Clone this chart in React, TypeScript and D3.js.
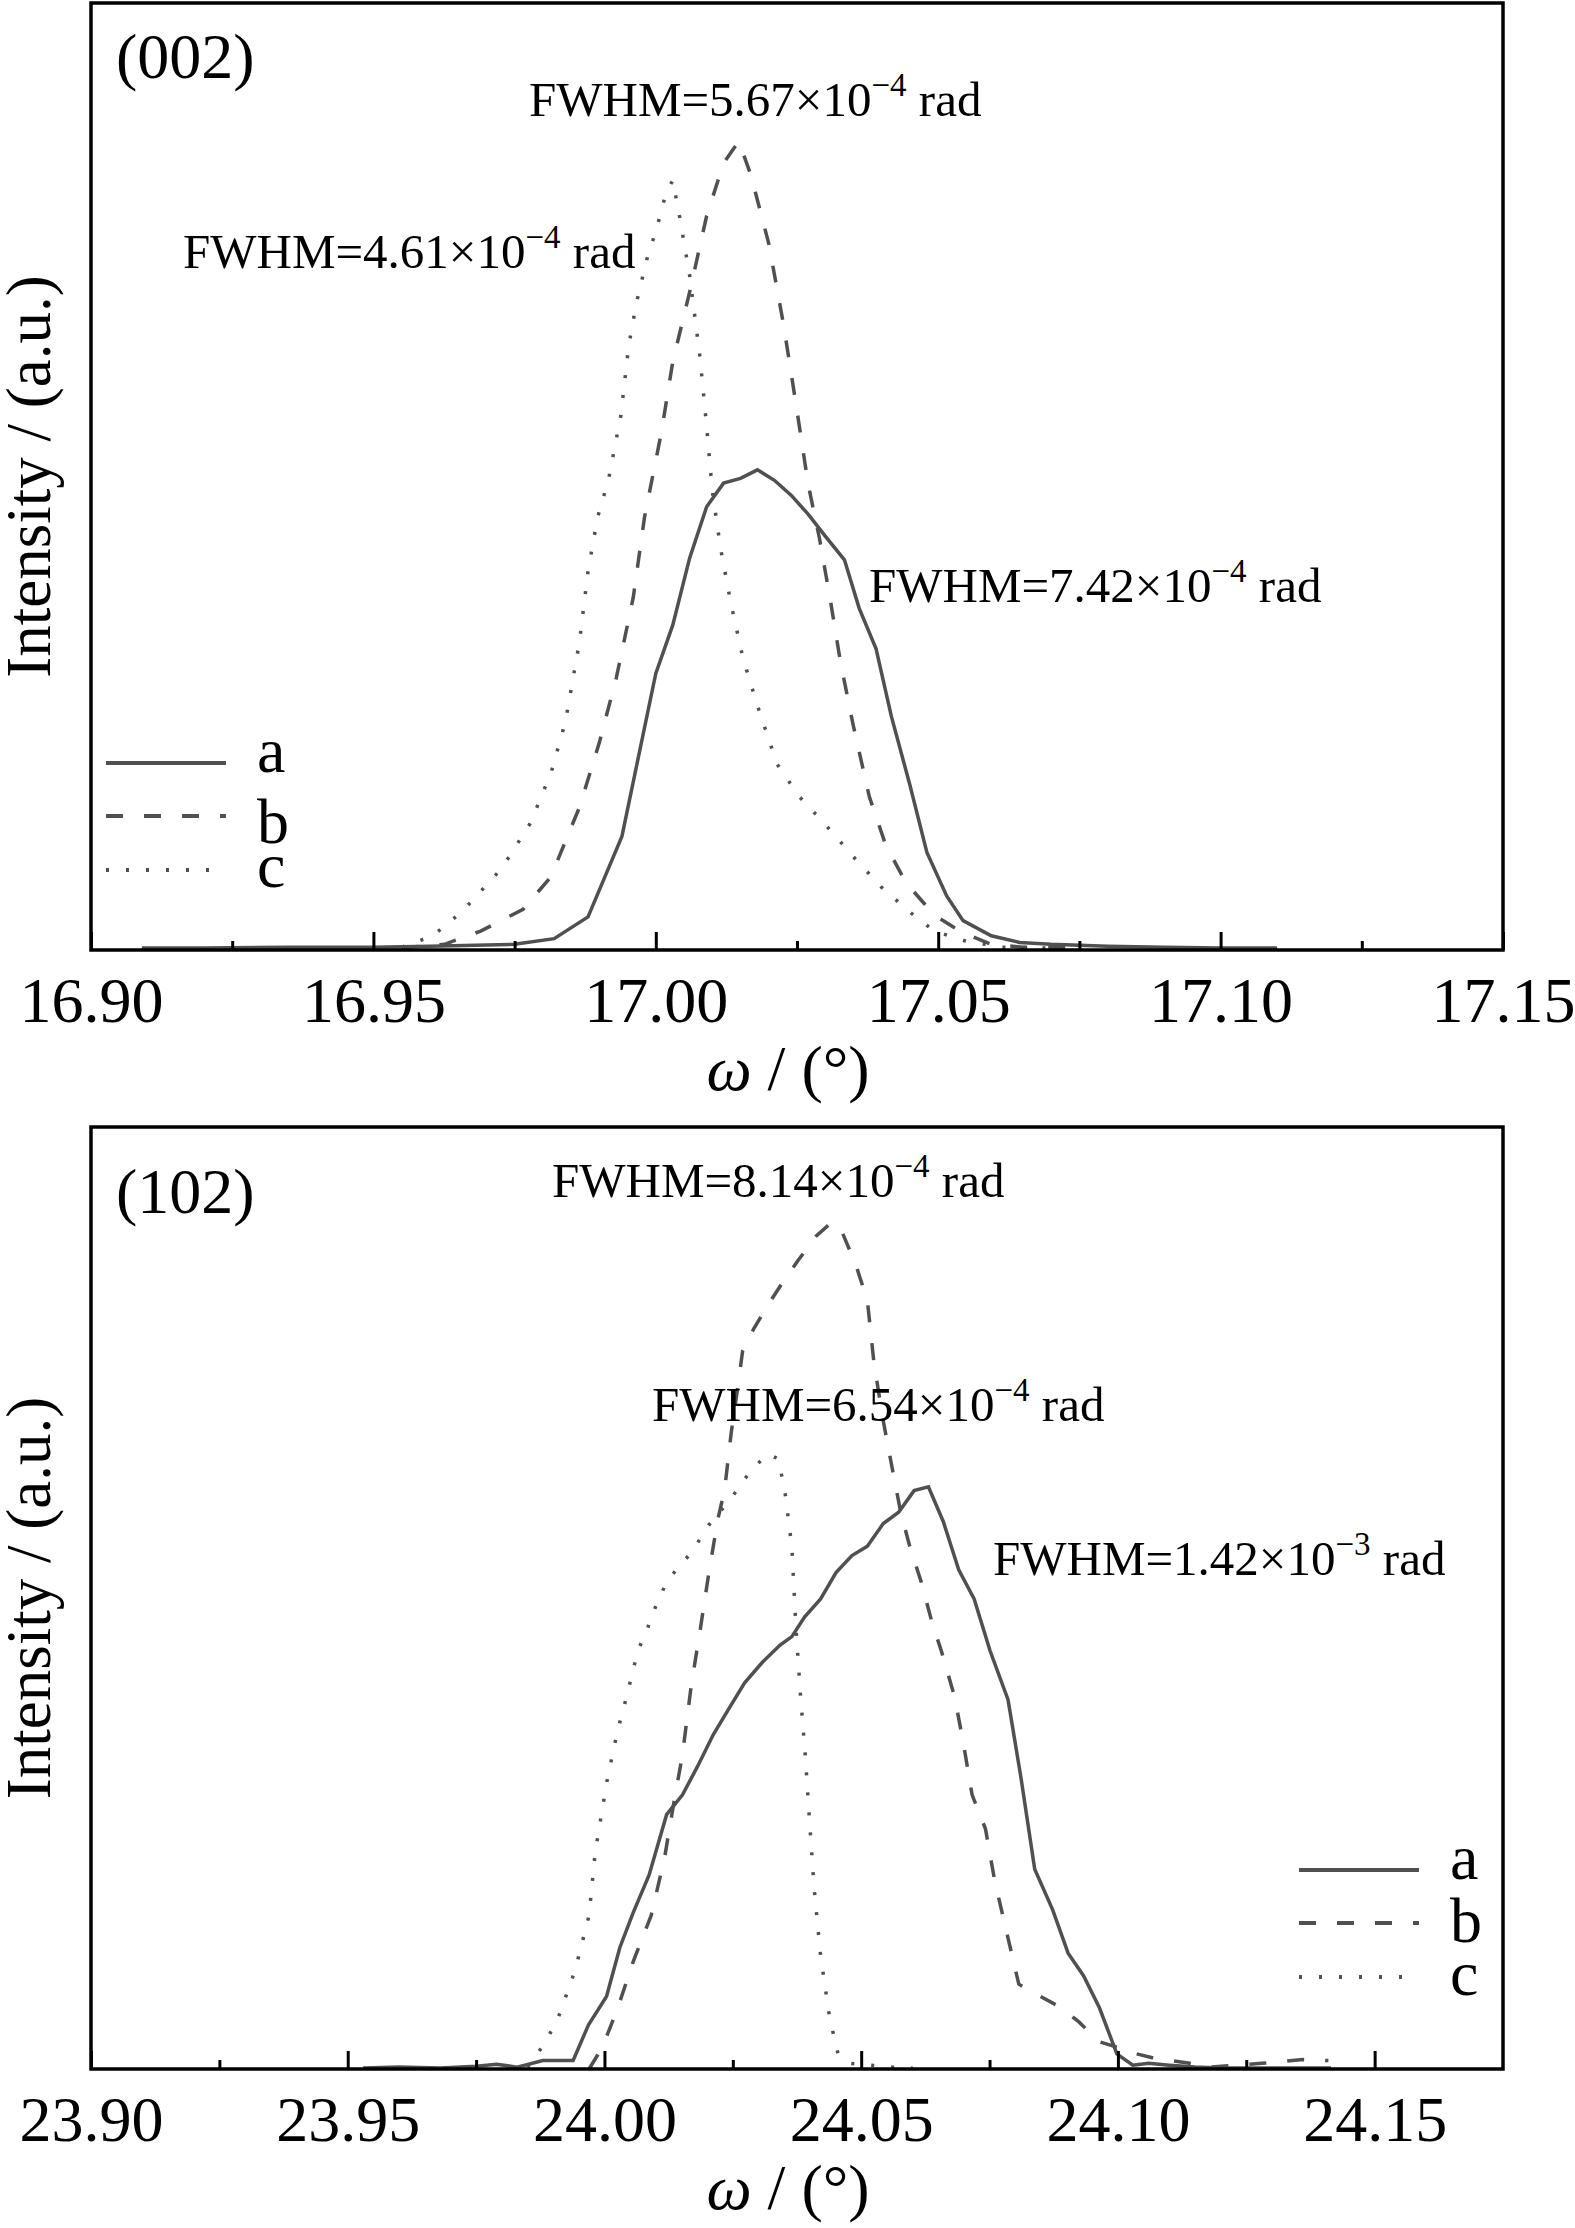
import React, { useRef, useEffect } from 'react';
import * as d3 from 'd3';

type Pt = [number, number];

// (002) rocking curves: [omega (deg), intensity (a.u., 0-1 of frame)]
const curve002a: Pt[] = [
  [16.909, 0.002], [16.92, 0.002], [16.935, 0.003], [16.95, 0.003], [16.96, 0.004], [16.968, 0.005],
  [16.975, 0.006], [16.982, 0.012], [16.988, 0.035], [16.994, 0.12], [17.0, 0.292], [17.003, 0.343],
  [17.006, 0.414], [17.009, 0.468], [17.012, 0.493], [17.015, 0.498], [17.018, 0.507], [17.021, 0.496],
  [17.024, 0.48], [17.027, 0.46], [17.03, 0.437], [17.0334, 0.412], [17.036, 0.361], [17.039, 0.318],
  [17.0417, 0.247], [17.045, 0.174], [17.048, 0.103], [17.0515, 0.057], [17.0544, 0.031], [17.0594, 0.015],
  [17.0644, 0.008], [17.07, 0.006], [17.08, 0.004], [17.09, 0.003], [17.1, 0.002], [17.11, 0.002],
];
const curve002b: Pt[] = [
  [16.955, 0.002], [16.9626, 0.006], [16.969, 0.02], [16.9765, 0.043], [16.9814, 0.077], [16.9865, 0.151],
  [16.99, 0.219], [16.993, 0.287], [16.996, 0.372], [16.998, 0.457], [17.001, 0.547], [17.003, 0.621],
  [17.006, 0.695], [17.009, 0.775], [17.012, 0.831], [17.0147, 0.854], [17.0168, 0.819], [17.02, 0.746],
  [17.0226, 0.661], [17.0247, 0.581], [17.027, 0.491], [17.029, 0.434], [17.031, 0.366], [17.0327, 0.304],
  [17.035, 0.236], [17.0378, 0.162], [17.0407, 0.111], [17.0443, 0.071], [17.0493, 0.037], [17.0544, 0.018],
  [17.0594, 0.006], [17.065, 0.003], [17.075, 0.002],
];
const curve002c: Pt[] = [
  [16.955, 0.003], [16.9605, 0.015], [16.9656, 0.04], [16.9727, 0.086], [16.9778, 0.134], [16.9815, 0.188],
  [16.984, 0.241], [16.9865, 0.326], [16.988, 0.4], [16.9897, 0.457], [16.9916, 0.496], [16.9938, 0.564],
  [16.9952, 0.638], [16.9966, 0.684], [16.9984, 0.729], [17.0002, 0.763], [17.0017, 0.797], [17.003, 0.813],
  [17.0042, 0.775], [17.006, 0.712], [17.0078, 0.627], [17.009, 0.553], [17.01, 0.485], [17.0115, 0.423],
  [17.0133, 0.366], [17.0154, 0.309], [17.018, 0.258], [17.0215, 0.196], [17.0254, 0.162], [17.0298, 0.134],
  [17.0349, 0.099], [17.04, 0.066], [17.045, 0.04], [17.0493, 0.02], [17.0551, 0.009], [17.0616, 0.003],
  [17.07, 0.002],
];

// (102) rocking curves
const curve102a: Pt[] = [
  [23.953, 0.001], [23.96, 0.002], [23.968, 0.001], [23.975, 0.003], [23.979, 0.005], [23.983, 0.002],
  [23.988, 0.009], [23.9939, 0.009], [23.9969, 0.047], [24.0004, 0.077], [24.003, 0.129], [24.0056, 0.166],
  [24.0087, 0.206], [24.0121, 0.27], [24.0152, 0.291], [24.0182, 0.322], [24.0212, 0.355], [24.0243, 0.383],
  [24.0273, 0.41], [24.0308, 0.432], [24.0342, 0.45], [24.0365, 0.459], [24.039, 0.48], [24.0421, 0.499],
  [24.0451, 0.527], [24.0482, 0.545], [24.0512, 0.555], [24.0543, 0.579], [24.0573, 0.591], [24.0603, 0.614],
  [24.0631, 0.618], [24.066, 0.581], [24.069, 0.53], [24.072, 0.499], [24.0751, 0.444], [24.0786, 0.392],
  [24.0811, 0.31], [24.0838, 0.212], [24.0873, 0.169], [24.0903, 0.123], [24.0933, 0.099], [24.0964, 0.065],
  [24.0998, 0.016], [24.1029, 0.004], [24.106, 0.006], [24.11, 0.004], [24.115, 0.002], [24.12, 0.001],
  [24.13, 0.001], [24.1415, 0.001],
];
const curve102b: Pt[] = [
  [23.997, 0.0], [23.9996, 0.023], [24.0026, 0.065], [24.0056, 0.114], [24.0091, 0.163], [24.0117, 0.224],
  [24.0134, 0.279], [24.0152, 0.334], [24.0169, 0.407], [24.0187, 0.468], [24.0204, 0.529], [24.0221, 0.584],
  [24.0234, 0.615], [24.0247, 0.676], [24.026, 0.725], [24.0269, 0.762], [24.0291, 0.786], [24.0317, 0.81],
  [24.0347, 0.835], [24.0378, 0.859], [24.0412, 0.884], [24.0443, 0.899], [24.0464, 0.887], [24.049, 0.853],
  [24.0512, 0.816], [24.0525, 0.749], [24.0543, 0.688], [24.056, 0.639], [24.0577, 0.591], [24.0595, 0.554],
  [24.0617, 0.517], [24.0638, 0.474], [24.0656, 0.444], [24.0682, 0.395], [24.0699, 0.346], [24.0716, 0.291],
  [24.0742, 0.255], [24.076, 0.2], [24.0786, 0.139], [24.0807, 0.09], [24.0846, 0.078], [24.089, 0.065],
  [24.0924, 0.05], [24.0963, 0.029], [24.0993, 0.024], [24.1029, 0.017], [24.1067, 0.012], [24.114, 0.006],
  [24.118, 0.002], [24.123, 0.004], [24.128, 0.006], [24.136, 0.01], [24.141, 0.009],
];
const curve102c: Pt[] = [
  [23.985, 0.002], [23.9882, 0.026], [23.9909, 0.053], [23.9943, 0.105], [23.997, 0.163], [23.9982, 0.23],
  [24.0004, 0.303], [24.0025, 0.358], [24.0043, 0.395], [24.0065, 0.444], [24.0082, 0.465], [24.0099, 0.49],
  [24.0121, 0.517], [24.0143, 0.532], [24.0169, 0.548], [24.0204, 0.578], [24.0247, 0.606], [24.0282, 0.633],
  [24.0317, 0.653], [24.0338, 0.648], [24.0351, 0.615], [24.0365, 0.554], [24.0373, 0.468], [24.0382, 0.395],
  [24.0391, 0.334], [24.0399, 0.267], [24.0408, 0.194], [24.0421, 0.12], [24.0439, 0.053], [24.0455, 0.016],
  [24.048, 0.006], [24.052, 0.004], [24.056, 0.002], [24.06, 0.001],
];

const seriesNames = ['a', 'b', 'c'];
const domain002: [number, number] = [16.9, 17.15];
const domain102: [number, number] = [23.9, 24.175];
const fwhm002 = ['7.42', '5.67', '4.61'];
const fwhm102 = ['1.42', '8.14', '6.54'];
const fwhmExp102 = ['−3', '−4', '−4'];

const WIDTH = 1575;
const HEIGHT = 2228;
const FONT = '"Liberation Serif", "Times New Roman", serif';
const LINE_COLOR = '#505050';
const DASHES = ['none', '17,21', '3,17'];

interface Note { text: string; exp: string; x: number; y: number }

interface Panel {
  title: string;
  domain: [number, number];
  curves: Pt[][];
  top: number;
  bottom: number;
  titleY: number;
  notes: Note[];
  legendX: number;
  legendY: number[];
  legendLabelY: number[];
}

const panels: Panel[] = [
  {
    title: '(002)',
    domain: domain002,
    curves: [curve002a, curve002b, curve002c],
    top: 3,
    bottom: 950,
    titleY: 78,
    notes: [
      { text: fwhm002[0], exp: '−4', x: 869, y: 602 },
      { text: fwhm002[1], exp: '−4', x: 529, y: 116 },
      { text: fwhm002[2], exp: '−4', x: 183, y: 268 },
    ],
    legendX: 106,
    legendY: [763, 816, 870],
    legendLabelY: [772, 843, 887],
  },
  {
    title: '(102)',
    domain: domain102,
    curves: [curve102a, curve102b, curve102c],
    top: 1127,
    bottom: 2069,
    titleY: 1213,
    notes: [
      { text: fwhm102[0], exp: fwhmExp102[0], x: 993, y: 1575 },
      { text: fwhm102[1], exp: fwhmExp102[1], x: 552, y: 1197 },
      { text: fwhm102[2], exp: fwhmExp102[2], x: 652, y: 1421 },
    ],
    legendX: 1299,
    legendY: [1870, 1923, 1977],
    legendLabelY: [1879, 1942, 1995],
  },
];

const LEFT = 91;
const RIGHT = 1503;

function App(): React.ReactElement {
  const svgRef = useRef<SVGSVGElement | null>(null);

  useEffect(() => {
    document.body.style.margin = '0';
    const svg = d3.select(svgRef.current);
    svg.selectAll('*').remove();

    panels.forEach((p) => {
      const x = d3.scaleLinear().domain(p.domain).range([LEFT, RIGHT]);
      const y = d3.scaleLinear().domain([0, 1]).range([p.bottom, p.top]);
      const g = svg.append('g');

      // curves
      const line = d3.line<Pt>().x((d) => x(d[0])).y((d) => y(d[1]));
      p.curves.forEach((c, i) => {
        g.append('path')
          .attr('d', line(c))
          .attr('fill', 'none')
          .attr('stroke', LINE_COLOR)
          .attr('stroke-width', 3.5)
          .attr('stroke-dasharray', DASHES[i]);
      });

      // ticks point inward; minor ticks halfway between majors
      const major = x.ticks(5);
      const minor = major.slice(0, -1).map((v, i) => (v + major[i + 1]) / 2);
      const axis = g.append('g').attr('transform', `translate(0,${p.bottom})`);
      axis.call(
        d3.axisBottom(x).tickValues(major).tickSize(-18).tickPadding(27)
          .tickFormat(d3.format('.2f') as any),
      );
      axis.append('g').call(
        d3.axisBottom(x).tickValues(minor).tickSize(-9).tickFormat(() => ''),
      );
      axis.selectAll('.domain').remove();
      axis.selectAll('line').attr('stroke', '#000').attr('stroke-width', 3);
      axis.selectAll('text')
        .attr('fill', '#000')
        .style('font-family', FONT)
        .style('font-size', '64px');

      // frame
      g.append('rect')
        .attr('x', LEFT)
        .attr('y', p.top)
        .attr('width', RIGHT - LEFT)
        .attr('height', p.bottom - p.top)
        .attr('fill', 'none')
        .attr('stroke', '#000')
        .attr('stroke-width', 3.5);

      // axis titles
      const xt = g.append('text')
        .attr('x', 788)
        .attr('y', p.bottom + 140)
        .attr('text-anchor', 'middle')
        .style('font-family', FONT)
        .style('font-size', '64px');
      xt.append('tspan').attr('font-style', 'italic').text('ω');
      xt.append('tspan').text(' / (°)');

      g.append('text')
        .attr('transform', `translate(50,${(p.top + p.bottom) / 2}) rotate(-90)`)
        .attr('text-anchor', 'middle')
        .style('font-family', FONT)
        .style('font-size', '63px')
        .text('Intensity / (a.u.)');

      // panel label
      g.append('text')
        .attr('x', 116)
        .attr('y', p.titleY)
        .style('font-family', FONT)
        .style('font-size', '64px')
        .text(p.title);

      // FWHM notes
      p.notes.forEach((n) => {
        const t = g.append('text')
          .attr('x', n.x)
          .attr('y', n.y)
          .style('font-family', FONT)
          .style('font-size', '49px');
        t.append('tspan').text(`FWHM=${n.text}×10`);
        t.append('tspan').attr('dy', -20).style('font-size', '33px').text(n.exp);
        t.append('tspan').attr('dy', 20).text(' rad');
      });

      // legend
      seriesNames.forEach((name, i) => {
        g.append('line')
          .attr('x1', p.legendX)
          .attr('x2', p.legendX + 120)
          .attr('y1', p.legendY[i])
          .attr('y2', p.legendY[i])
          .attr('stroke', LINE_COLOR)
          .attr('stroke-width', 4)
          .attr('stroke-dasharray', DASHES[i]);
        g.append('text')
          .attr('x', p.legendX + 151)
          .attr('y', p.legendLabelY[i])
          .style('font-family', FONT)
          .style('font-size', '64px')
          .text(name);
      });
    });
  }, []);

  return (
    <svg
      ref={svgRef}
      width={WIDTH}
      height={HEIGHT}
      style={{ display: 'block', background: '#fff' }}
    />
  );
}

export default App;
